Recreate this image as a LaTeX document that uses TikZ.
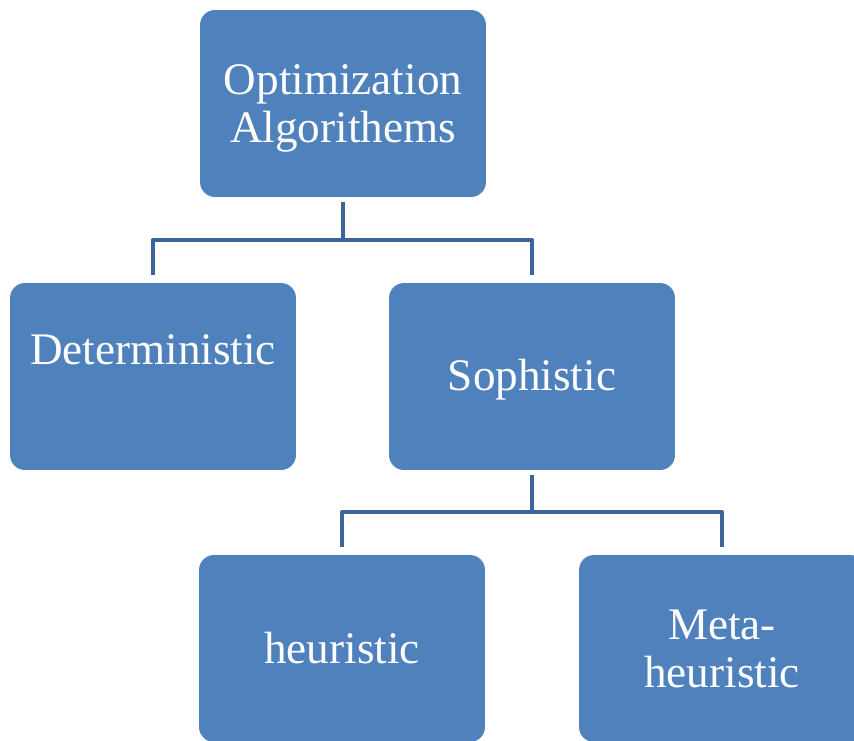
\documentclass[tikz,border=0pt]{standalone}
\usepackage{fontspec}
\setmainfont{Liberation Serif}
\definecolor{boxblue}{RGB}{79,129,189}
\definecolor{linkblue}{RGB}{61,101,151}
\newcommand{\padtop}[1][21.5pt]{\rule{0pt}{#1}}
\tikzset{
	algbox/.style = {rectangle, rounded corners = .3cm, fill = boxblue, text = white, align = center,
		minimum width = 5.72cm, minimum height = 3.74cm, inner sep = 0pt,
		font = \fontsize{25.7pt}{27.3pt}\selectfont},
	link/.style = {draw = linkblue, line width = .085cm, line join = round, shorten < = .1cm, shorten > = .16cm}
}
\begin{document}
\begin{tikzpicture}[x = .02cm, y = -.02cm]
		\useasboundingbox (0,0) rectangle (854,740);
		\node [algbox] (opt) at (343,103.5) {\padtop[22.5pt]Optimization\\Algorithems};
		\node [algbox] (det) at (153,376.5) {Deterministic\\[-4.9pt]\strut};
		\node [algbox] (sop) at (532,376.5) {\padtop Sophistic};
		\node [algbox] (heu) at (342,648.5) {heuristic};
		\node [algbox] (meta) at (722,648.5) {Meta-\\heuristic};
		\draw [link] (opt.south) -- ++(0,43) -| (det.north);
		\draw [link] (opt.south) -- ++(0,43) -| (sop.north);
		\draw [link] (sop.south) -- ++(0,42) -| (heu.north);
		\draw [link] (sop.south) -- ++(0,42) -| (meta.north);
	\end{tikzpicture}
\end{document}
